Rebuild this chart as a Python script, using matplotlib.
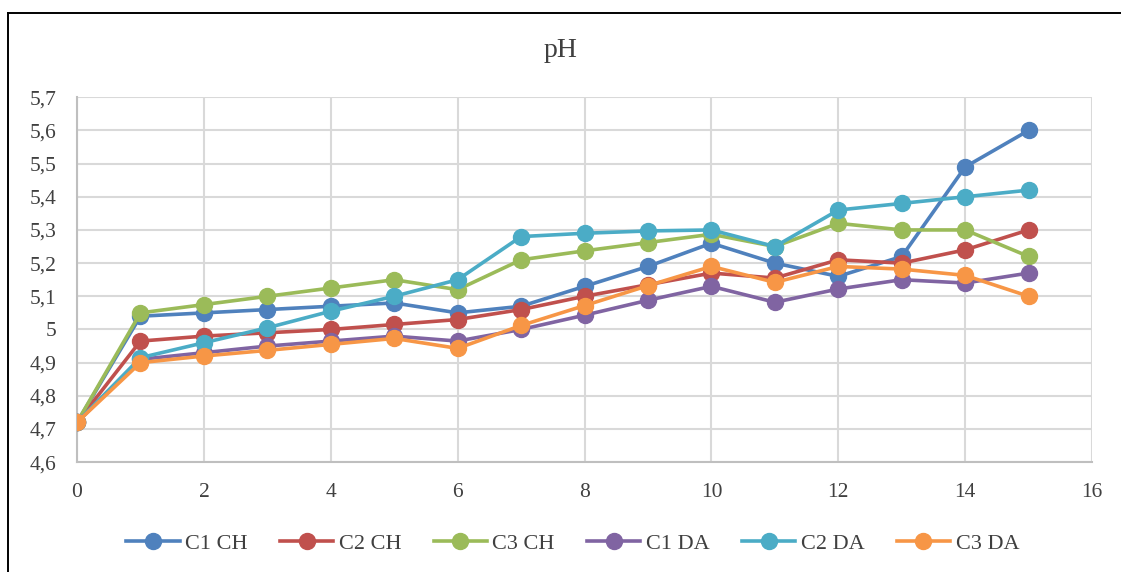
import matplotlib.pyplot as plt
from matplotlib.ticker import FuncFormatter, MultipleLocator
from matplotlib.lines import Line2D

plt.rcParams['font.family'] = ['Liberation Serif', 'DejaVu Serif']

days = list(range(16))
c1_ch = [4.72, 5.04, 5.05, 5.06, 5.07, 5.08, 5.05, 5.07, 5.13, 5.19, 5.26, 5.20, 5.16, 5.22, 5.49, 5.60]
c2_ch = [4.72, 4.965, 4.98, 4.99, 5.00, 5.015, 5.03, 5.06, 5.10, 5.135, 5.17, 5.155, 5.21, 5.20, 5.24, 5.30]
c3_ch = [4.72, 5.05, 5.075, 5.10, 5.125, 5.15, 5.12, 5.21, 5.237, 5.262, 5.287, 5.25, 5.32, 5.30, 5.30, 5.22]
c1_da = [4.72, 4.91, 4.93, 4.95, 4.965, 4.98, 4.965, 5.00, 5.043, 5.088, 5.13, 5.082, 5.122, 5.15, 5.14, 5.17]
c2_da = [4.72, 4.915, 4.96, 5.005, 5.055, 5.10, 5.15, 5.28, 5.29, 5.297, 5.30, 5.25, 5.36, 5.38, 5.40, 5.42]
c3_da = [4.72, 4.90, 4.92, 4.937, 4.955, 4.973, 4.943, 5.012, 5.072, 5.132, 5.19, 5.142, 5.19, 5.182, 5.163, 5.10]

series = [('C1 CH', c1_ch, '#4F81BD'), ('C2 CH', c2_ch, '#C0504D'),
          ('C3 CH', c3_ch, '#9BBB59'), ('C1 DA', c1_da, '#8064A2'),
          ('C2 DA', c2_da, '#4BACC6'), ('C3 DA', c3_da, '#F79646')]

fig = plt.figure(figsize=(11.21, 5.72), dpi=100)
ax = fig.add_axes([0.0687, 0.192, 0.9055, 0.638])

for name, vals, col in series:
    ax.plot(days, vals, color=col, linewidth=2.6, marker='o',
            markersize=11.5, label=name, zorder=3)

ax.set_xlim(0, 16)
ax.set_ylim(4.6, 5.7)
ax.xaxis.set_major_locator(MultipleLocator(2))
ax.yaxis.set_major_locator(MultipleLocator(0.1))
fmt = FuncFormatter(lambda v, p: ('%g' % round(v, 2)).replace('.', ','))
ax.xaxis.set_major_formatter(fmt)
ax.yaxis.set_major_formatter(fmt)
ax.grid(True, color='#d9d9d9', linewidth=1.5)
ax.set_axisbelow(True)
for s in ['top', 'right']:
    ax.spines[s].set_visible(False)
ax.spines['left'].set_color('#bfbfbf')
ax.spines['bottom'].set_color('#bfbfbf')
ax.spines['left'].set_linewidth(1.5)
ax.spines['bottom'].set_linewidth(1.5)
ax.tick_params(axis='y', length=0, labelsize=15.5, colors='#404040', pad=15)
ax.tick_params(axis='x', length=0, labelsize=15.5, colors='#404040', pad=15)

fig.text(0.5, 0.912, 'pH', ha='center', va='center', fontsize=20, color='#404040')

fig.legend(loc='center', bbox_to_anchor=(0.511, 0.05), ncol=6, frameon=False,
           fontsize=16, handlelength=2.4, columnspacing=1.45, handletextpad=0.25,
           labelcolor='#404040')

# outer chart frame (top and left edges only)
fig.add_artist(Line2D([0.0071, 1.0], [0.977, 0.977], transform=fig.transFigure,
                      color='black', linewidth=1.4))
fig.add_artist(Line2D([0.0071, 0.0071], [0.0, 0.977], transform=fig.transFigure,
                      color='black', linewidth=1.4))

fig.savefig('out.png', dpi=100)
